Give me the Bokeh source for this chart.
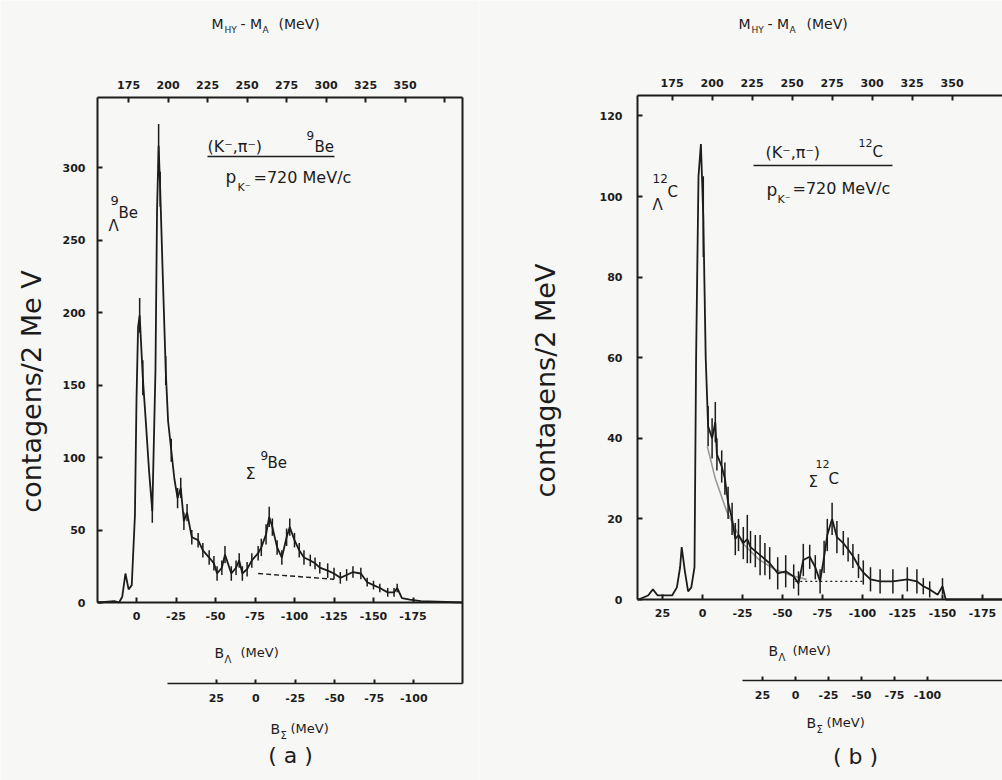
import math
from bokeh.plotting import figure
from bokeh.models import Range1d, LinearAxis, FixedTicker, Label
from bokeh.layouts import row
from bokeh.embed import file_html
from bokeh.resources import INLINE

INK = "#1c1c1c"
PAPER = "#f7f7f5"
FONT = "DejaVu Sans"

# ---------------- panel (a): (K-,pi-) on 9Be ----------------
a_B = [24, 14, 11, 9, 7, 5, 3, 1, 0, -1, -2, -4, -6, -8, -10, -12, -13, -14, -15, -16.5,
       -18.5, -20, -22, -24, -26, -28, -30, -32, -35, -39, -42, -46, -49, -51, -54, -56,
       -60, -63, -65, -67, -70, -73, -77, -79, -82, -84, -86, -89, -92, -95, -97, -100,
       -103, -106, -110, -113, -116, -121, -125, -129, -133, -137, -142, -146, -150, -154,
       -159, -163, -165, -168, -173, -180, -206]
a_counts = [0, 1, 0, 4, 20, 9, 12, 60, 140, 190, 198, 155, 123, 90, 63, 160, 270, 315, 285, 230,
            160, 125, 105, 85, 72, 79, 56, 62, 45, 43, 36, 31, 27, 20, 24, 33,
            20, 24, 29, 20, 23, 29, 34, 38, 47, 59, 52, 38, 31, 45, 52, 43,
            36, 31, 29, 27, 24, 22, 20, 17, 19, 21, 20, 14, 12, 10,
            7, 7, 10, 3, 2, 1, 0]
a_err = [0, 0, 0, 0, 0, 0, 0, 0, 0, 0, 12, 12, 0, 0, 8, 0, 0, 15, 12, 0,
         10, 0, 8, 0, 7, 7, 6, 6, 5, 5, 5, 5, 5, 5, 5, 6,
         5, 5, 5, 5, 5, 5, 5, 6, 7, 7, 6, 5, 5, 6, 6, 5,
         5, 5, 4, 4, 4, 5, 4, 4, 4, 4, 4, 3, 3, 3,
         3, 3, 3, 0, 0, 0, 0]
a_bg_B = [-77, -125]
a_bg_c = [20, 16]
a_y_ticks = [0, 50, 100, 150, 200, 250, 300]
a_bottom_ticks = [0, -25, -50, -75, -100, -125, -150, -175]
a_top_ticks = [175, 200, 225, 250, 275, 300, 325, 350, 375]
a_top_labels = ["175", "200", "225", "250", "275", "300", "325", "350", ""]
a_sigma_ticks = [25, 0, -25, -50, -75, -100]

# ---------------- panel (b): (K-,pi-) on 12C ----------------
b_B = [40, 34, 31, 28, 24, 19, 16, 14, 13, 11, 9, 7, 5, 4, 2.5, 1, -0.5, -2, -3.5, -6,
       -8, -9, -12, -14, -16, -18.5, -20.5, -22.5, -25.5, -28, -30, -33, -36, -39, -42,
       -47, -52, -57, -60, -63, -67, -70.5, -73.5, -76, -78, -81, -84, -88, -91, -94,
       -97.5, -100.5, -105, -111, -119, -128, -134, -138, -142, -147, -150, -152, -160, -190]
b_counts = [0, 1, 2.5, 1, 1, 1, 3, 8, 13, 7, 2, 3, 8, 60, 105, 113, 95, 60, 43, 40,
            44, 36, 33, 30, 24, 20, 15, 16, 14, 15, 13, 12, 11, 10, 9,
            6.5, 7, 5.7, 4, 9.8, 10.6, 8, 4.5, 10.6, 16, 20, 15.5, 14, 12.4, 10.8,
            8.3, 6.7, 5, 4.5, 4.5, 5, 4.5, 3.3, 2.5, 1.2, 3.3, 0, 0, 0]
b_err = [0, 0, 0, 0, 0, 0, 0, 0, 0, 0, 0, 0, 0, 0, 0, 0, 10, 0, 5, 5,
         5, 4, 4, 4, 4, 4, 4, 4, 4, 6, 4, 4, 5, 4, 4,
         4, 4, 3, 3, 4, 3, 3, 3, 4, 4, 4, 4, 3, 3, 3,
         3, 3, 3, 3, 3, 3, 3, 2, 2, 0, 2, 0, 0, 0]
b_fit_B = [-3, -8, -15, -25, -35, -45, -55, -65]
b_fit_c = [38, 30, 22, 14, 10, 7.5, 6, 5]
b_bg_B = [-58, -100]
b_bg_c = [4.5, 4.5]
b_y_ticks = [0, 20, 40, 60, 80, 100, 120]
b_bottom_ticks = [25, 0, -25, -50, -75, -100, -125, -150, -175]
b_top_ticks = [175, 200, 225, 250, 275, 300, 325, 350]
b_top_labels = ["175", "200", "225", "250", "275", "300", "325", "350"]
b_sigma_ticks = [25, 0, -25, -50, -75, -100]

H = 780


class Geo:
    """page-pixel <-> data mapping for one panel (canvas = frame)."""
    def __init__(self, x_left, x0_px, bx0, scale_x, y0_px, scale_y):
        self.x_left = x_left
        self.x0_px = x0_px
        self.bx0 = bx0
        self.sx = scale_x
        self.y0_px = y0_px
        self.sy = scale_y

    def B(self, x):
        return self.bx0 + (self.x0_px - x) / self.sx

    def c(self, y):
        return (self.y0_px - y) / self.sy


def style_axis(ax, ticks, labels=None, standoff=8, size="11px", tick_in=5, lw=2):
    ax.ticker = FixedTicker(ticks=ticks)
    ax.minor_tick_line_color = None
    ax.major_tick_in = tick_in
    ax.major_tick_out = 0
    ax.major_tick_line_width = 2
    ax.major_tick_line_color = INK
    ax.axis_line_width = lw
    ax.axis_line_color = INK
    ax.major_label_text_font = FONT
    ax.major_label_text_font_style = "bold"
    ax.major_label_text_font_size = size
    ax.major_label_text_color = INK
    ax.major_label_standoff = standoff
    if labels is None:
        labels = [str(t) for t in ticks]
    ax.major_label_overrides = {t: l for t, l in zip(ticks, labels)}
    if not ticks:
        ax.major_label_text_font_size = "0px"


def make_panel(W, g, frame, m_off, s_map, s_start_px, sigma_y_px,
               y_ticks, bottom_ticks, top_ticks, top_labels, sigma_ticks,
               y_standoff, right_border):
    xl, xr_ = g.x_left, g.x_left + W
    xr = (g.B(xl), g.B(xr_))
    yr = (g.c(H), g.c(0))
    p = figure(width=W, height=H, x_range=Range1d(*xr), y_range=Range1d(*yr),
               output_backend="svg", toolbar_location=None,
               x_axis_location=None, y_axis_location=None,
               min_border=0, min_border_left=0, min_border_right=0,
               min_border_top=0, min_border_bottom=0)
    p.grid.visible = False
    p.background_fill_color = PAPER
    p.border_fill_color = PAPER
    p.outline_line_color = None
    fx0, fx1, fy0, fy1 = frame
    Bl, Br = g.B(fx0), g.B(fx1)
    ctop, cbot = g.c(fy0), 0.0
    csig = g.c(sigma_y_px)
    p.extra_x_ranges = {
        "M": Range1d(m_off - xr[0], m_off - xr[1]),
        "S": Range1d(s_map(xr[0]), s_map(xr[1])),
    }
    yax = LinearAxis(fixed_location=Bl, bounds=(cbot, ctop))
    style_axis(yax, y_ticks, standoff=y_standoff)
    p.add_layout(yax, "left")
    xax = LinearAxis(fixed_location=cbot, bounds=(Br, Bl))
    style_axis(xax, bottom_ticks, standoff=9)
    p.add_layout(xax, "below")
    sax = LinearAxis(x_range_name="S", fixed_location=csig,
                     bounds=(s_map(Br), s_map(g.B(s_start_px))))
    style_axis(sax, sigma_ticks, standoff=10, tick_in=4, lw=1.5)
    p.add_layout(sax, "below")
    tax = LinearAxis(x_range_name="M", fixed_location=ctop,
                     bounds=(m_off - Bl, m_off - Br))
    style_axis(tax, top_ticks, top_labels, standoff=9)
    p.add_layout(tax, "above")
    if right_border:
        rax = LinearAxis(fixed_location=Br, bounds=(csig, ctop))
        style_axis(rax, [], lw=2)
        p.add_layout(rax, "right")
    return p


def put_labels(p, g, items):
    for (ax, ay, txt, size, align) in items:
        p.add_layout(Label(x=g.B(ax), y=g.c(ay), text=txt, text_font=FONT,
                           text_font_size=f"{size}px", text_align=align,
                           text_baseline="middle", text_color=INK))


def put_ylabel(p, g, ax, ay, txt):
    p.add_layout(Label(x=g.B(ax), y=g.c(ay), text=txt, text_font=FONT,
                       text_font_size="27px", text_align="center",
                       text_baseline="middle", angle=math.pi / 2, text_color=INK))


def underline(p, g, x0, x1, y):
    p.segment(x0=[g.B(x0)], y0=[g.c(y)], x1=[g.B(x1)], y1=[g.c(y)],
              line_color=INK, line_width=1.6)


def draw_data(p, B, counts, err, bgB, bgc, dash):
    p.line(B, counts, line_color=INK, line_width=1.8)
    xs = [b for b, e in zip(B, err) if e > 0]
    lo = [c - e for c, e in zip(counts, err) if e > 0]
    hi = [c + e for c, e in zip(counts, err) if e > 0]
    p.segment(x0=xs, y0=lo, x1=xs, y1=hi, line_color=INK, line_width=1.5)
    p.line(bgB, bgc, line_color=INK, line_width=1.4, line_dash=dash)


# ---- panel a: canvas page x 0..478; B=0 at x=136, 1.58 px/MeV; 0 counts at y=602, 1.45 px/count
ga = Geo(0, 136, 0.0, 1.58, 602, 1.45)
pa = make_panel(478, ga, (97, 462, 97, 602), 180, lambda b: b + 75.5, 167, 683,
                a_y_ticks, a_bottom_ticks, a_top_ticks, a_top_labels, a_sigma_ticks,
                12, True)
draw_data(pa, a_B, a_counts, a_err, a_bg_B, a_bg_c, "5 3")
underline(pa, ga, 207, 334, 156)
put_labels(pa, ga, [
    (207, 146, "(K\u207b,\u03c0\u207b)", 16, "left"),
    (306, 135, "9", 12, "left"),
    (314, 146, "Be", 15, "left"),
    (225, 176, "p", 17, "left"),
    (237, 187, "K\u207b", 11, "left"),
    (253, 177, "=720 MeV/c", 16, "left"),
    (110, 200, "9", 13, "left"),
    (118, 212, "Be", 15, "left"),
    (108, 225, "\u039b", 15, "left"),
    (245, 473, "\u03a3", 16, "left"),
    (260, 455, "9", 12, "left"),
    (267, 462, "Be", 15, "left"),
    (211, 23, "M", 14, "left"),
    (224, 29, "HY", 9, "left"),
    (240, 23, "- M", 14, "left"),
    (262, 29, "A", 9, "left"),
    (278, 23, "(MeV)", 14, "left"),
    (214, 652, "B", 14, "left"),
    (224, 659, "\u039b", 10, "left"),
    (240, 652, "(MeV)", 13, "left"),
    (270, 728, "B", 14, "left"),
    (280, 735, "\u03a3", 10, "left"),
    (290, 728, "(MeV)", 13, "left"),
    (290, 755, "( a )", 22, "center"),
])
put_ylabel(pa, ga, 31, 391, "contagens/2 Me V")

# ---- panel b: canvas page x 478..1002; B=0 at x=702, 1.6 px/MeV; 0 counts at y=599, 4.03 px/count
gb = Geo(478, 702, 0.0, 1.6, 599, 4.03)
pb = make_panel(524, gb, (637, 1002, 95, 599), 194, lambda b: (93 + 1.6 * b) / 1.32, 742, 680,
                b_y_ticks, b_bottom_ticks, b_top_ticks, b_top_labels, b_sigma_ticks,
                15, False)
pb.line(b_fit_B, b_fit_c, line_color="#9a9a9a", line_width=1.6)
draw_data(pb, b_B, b_counts, b_err, b_bg_B, b_bg_c, "2 3")
underline(pb, gb, 753, 892, 165)
put_labels(pb, gb, [
    (765, 152, "(K\u207b,\u03c0\u207b)", 16, "left"),
    (858, 142, "12", 11, "left"),
    (872, 151, "C", 15, "left"),
    (766, 189, "p", 17, "left"),
    (777, 199, "K\u207b", 11, "left"),
    (792, 188, "=720 MeV/c", 16, "left"),
    (652, 178, "12", 12, "left"),
    (667, 191, "C", 15, "left"),
    (652, 204, "\u039b", 15, "left"),
    (808, 481, "\u03a3", 15, "left"),
    (815, 463, "12", 11, "left"),
    (828, 478, "C", 15, "left"),
    (738, 23, "M", 14, "left"),
    (751, 29, "HY", 9, "left"),
    (767, 23, "- M", 14, "left"),
    (789, 29, "A", 9, "left"),
    (806, 23, "(MeV)", 14, "left"),
    (768, 650, "B", 14, "left"),
    (778, 657, "\u039b", 10, "left"),
    (792, 650, "(MeV)", 13, "left"),
    (806, 722, "B", 14, "left"),
    (816, 729, "\u03a3", 10, "left"),
    (826, 722, "(MeV)", 13, "left"),
    (855, 756, "( b )", 22, "center"),
])
put_ylabel(pb, gb, 545, 380, "contagens/2 MeV")

layout = row(pa, pb)
open("out.html", "w").write(file_html(layout, INLINE, "spectra"))
